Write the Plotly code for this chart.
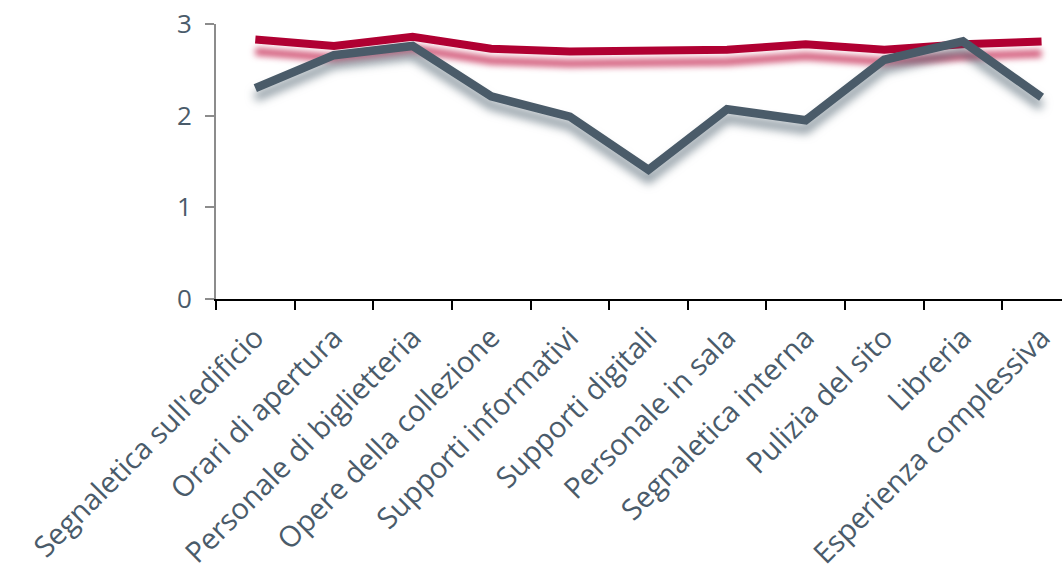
import plotly.graph_objects as go

categories = ["Segnaletica sull'edificio", "Orari di apertura", "Personale di biglietteria",
              "Opere della collezione", "Supporti informativi", "Supporti digitali",
              "Personale in sala", "Segnaletica interna", "Pulizia del sito", "Libreria",
              "Esperienza complessiva"]
serie_rossa = [2.83, 2.76, 2.86, 2.73, 2.70, 2.70, 2.72, 2.78, 2.72, 2.78, 2.81]
serie_grigia = [2.30, 2.66, 2.76, 2.21, 1.99, 1.41, 2.07, 1.95, 2.61, 2.81, 2.20]
y_ticks = [0, 1, 2, 3]

RED = "#B00032"
GRAY = "#4A5B69"
TXT = "#4A5B6A"
FONT = "Open Sans"

fig = go.Figure()
fig.add_trace(go.Scatter(x=categories, y=serie_rossa, mode="lines",
                         line=dict(color=RED, width=8), name="A"))
fig.add_trace(go.Scatter(x=categories, y=serie_grigia, mode="lines",
                         line=dict(color=GRAY, width=8.5), name="B"))

fig.update_layout(
    width=1062, height=578,
    margin=dict(l=216, r=0, t=24, b=279, autoexpand=False),
    paper_bgcolor="white", plot_bgcolor="white",
    showlegend=False,
    font=dict(family=FONT, color=TXT, size=22),
)
fig.update_xaxes(
    type="category", range=[-0.5, 10.26], automargin=False,
    showline=True, linecolor="black", linewidth=2,
    ticks="outside", tickson="boundaries", ticklen=9, tickwidth=2, tickcolor="black",
    tickangle=-45, tickfont=dict(size=29, color=TXT, family=FONT),
    showgrid=False, zeroline=False, ticklabelstandoff=8,
)
fig.update_yaxes(
    range=[0, 3], tickvals=y_ticks, automargin=False,
    showline=True, linecolor="#8C8C8C", linewidth=2,
    ticks="outside", ticklen=9, tickwidth=2, tickcolor="#8C8C8C",
    tickfont=dict(size=26, color=TXT, family=FONT),
    showgrid=False, zeroline=False, ticklabelstandoff=8,
)

post = """
var gd = document.getElementById('{plot_id}');
function shade(){
  var tr = gd.querySelectorAll('.scatterlayer .trace');
  if (tr.length >= 2) {
    tr[0].querySelector('path.js-line').style.filter = 'drop-shadow(0px 12px 3px rgba(200,50,90,0.8))';
    tr[1].querySelector('path.js-line').style.filter = 'drop-shadow(0px 9px 5px rgba(70,90,105,0.65))';
  }
}
shade();
gd.on && gd.on('plotly_afterplot', shade);
"""
fig.write_html("out.html", post_script=post)
